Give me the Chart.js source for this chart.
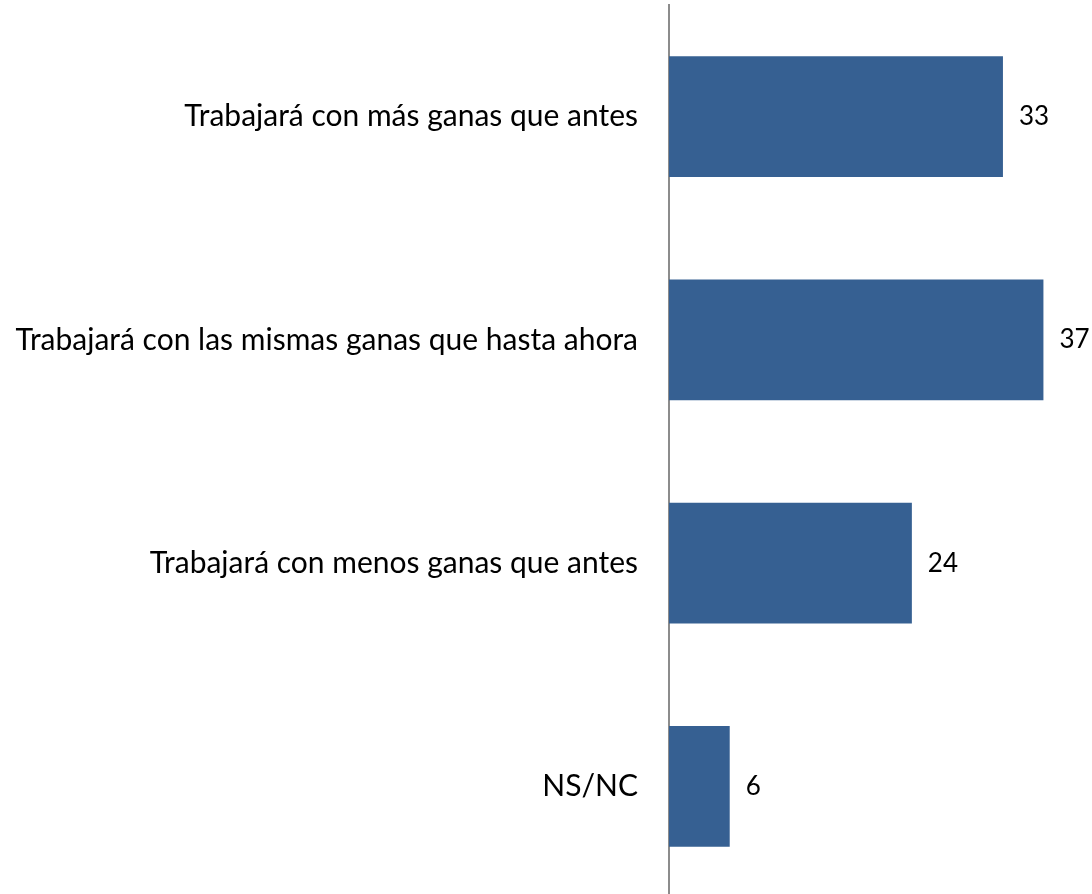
<!DOCTYPE html>
<html>
<head>
<meta charset="utf-8">
<script src="https://cdn.jsdelivr.net/npm/chart.js@4"></script>
<style>
  html, body { margin: 0; padding: 0; background: #fff; overflow: hidden; }
  /* canvas is a bit taller than the window: the original's plot runs past the bottom edge */
  #wrap { width: 1092px; height: 894px; overflow: hidden; }
</style>
</head>
<body>
<div id="wrap"><canvas id="chart" width="1092" height="898"></canvas></div>
<script>
const categories = [
    'Trabajará con más ganas que antes',
    'Trabajará con las mismas ganas que hasta ahora',
    'Trabajará con menos ganas que antes',
    'NS/NC'
];
const values = [33, 37, 24, 6];

const BAR_COLOR = '#366092';
const FONT = 'Lato, "Liberation Sans", sans-serif';

// value labels to the right of each bar
const valueLabels = {
    id: 'valueLabels',
    afterDatasetsDraw(chart) {
        const ctx = chart.ctx;
        const meta = chart.getDatasetMeta(0);
        ctx.save();
        ctx.font = '26px ' + FONT;
        ctx.fillStyle = '#000';
        ctx.textAlign = 'left';
        ctx.textBaseline = 'middle';
        meta.data.forEach((bar, i) => {
            ctx.fillText(String(values[i]), bar.x + 16, bar.y);
        });
        ctx.restore();
    }
};

new Chart(document.getElementById('chart'), {
    type: 'bar',
    data: {
        labels: categories,
        datasets: [{
            data: values,
            backgroundColor: BAR_COLOR,
            borderWidth: 0,
            barPercentage: 0.54,
            categoryPercentage: 1
        }]
    },
    options: {
        indexAxis: 'y',
        responsive: false,
        animation: false,
        layout: { padding: { top: 5, right: 0, bottom: 0, left: 0 } },
        plugins: {
            legend: { display: false },
            tooltip: { enabled: false }
        },
        scales: {
            x: {
                display: false,
                min: 0,
                max: 41.8
            },
            y: {
                afterFit(scale) {
                    scale.width = 669;
                    scale.paddingTop = 0;
                    scale.paddingBottom = 0;
                },
                grid: { display: false, drawTicks: false },
                border: { display: true, color: '#8c8c8c', width: 2 },
                ticks: {
                    color: '#000',
                    padding: 31,
                    font: { family: FONT, size: 30 }
                }
            }
        }
    },
    plugins: [valueLabels]
});
</script>
</body>
</html>
